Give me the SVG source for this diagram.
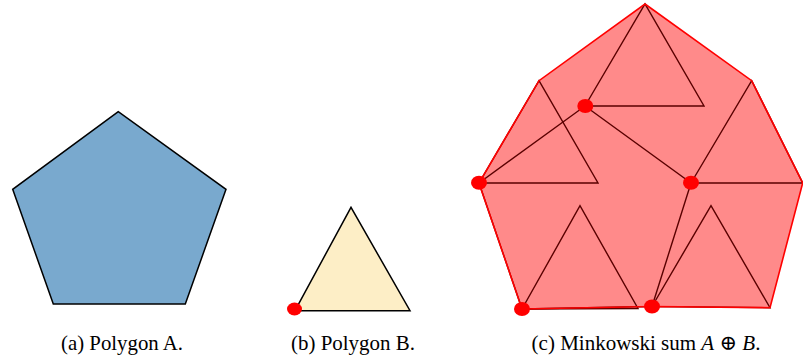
<svg xmlns="http://www.w3.org/2000/svg" width="803" height="360" viewBox="0 0 803 360">
<style>
.cap{font-family:'Liberation Serif','DejaVu Serif','Times New Roman',serif;font-size:22px;fill:#000;text-anchor:middle}
.outline{stroke:#000;stroke-width:1.5;stroke-linejoin:miter}
.sumfill{fill:#FF8A8A;stroke:none}
.sumline{fill:none;stroke:#FF0000;stroke-width:1.6;stroke-linejoin:miter}
.inner{fill:none;stroke:#5A0000;stroke-width:1.4;stroke-linejoin:miter}
.dot{fill:#FF0000}
</style>
<rect width="803" height="360" fill="#FFFFFF"/>
<g id="polygonA">
<polygon class="outline" fill="#79A9CE" points="118.3,111.7 12.7,189.3 53.3,304 185.3,304 226,189.3"/>
<text class="cap" font-family="Liberation Serif, serif" x="122" y="350" textLength="122" lengthAdjust="spacingAndGlyphs">(a) Polygon A.</text>
</g>
<g id="polygonB">
<polygon class="outline" fill="#FDEEC6" points="295,310.7 351,207.3 410,310.7"/>
<ellipse class="dot" cx="294.5" cy="309" rx="7.5" ry="6.5"/>
<text class="cap" font-family="Liberation Serif, serif" x="353" y="350" textLength="124" lengthAdjust="spacingAndGlyphs">(b) Polygon B.</text>
</g>
<g id="minkowskiSum">
<polygon class="sumfill" points="645,4 751.7,80.7 802.7,183 770,307.7 652,306.5 522,309 479,183 539,80.7"/>
<g id="connectors">
<polygon class="inner" points="585,106 691,183 652,306.5 522,309 479,183"/>
<polygon class="inner" points="585,106 645,4 704,106"/>
<polygon class="inner" points="479,183 539,80.7 598,183"/>
<polygon class="inner" points="691,183 751.7,80.7 802.7,183"/>
<polygon class="inner" points="522,309 580,205.7 638,308.5"/>
<polygon class="inner" points="652,306.5 711,205.7 770,307.7"/>
</g>
<polygon class="sumline" points="645,4 751.7,80.7 802.7,183 770,307.7 652,306.5 522,309 479,183 539,80.7"/>
<ellipse class="dot" cx="585.3" cy="106" rx="8" ry="7"/>
<ellipse class="dot" cx="479" cy="182.7" rx="8" ry="7"/>
<ellipse class="dot" cx="691" cy="182.7" rx="8" ry="7"/>
<ellipse class="dot" cx="522" cy="309" rx="8" ry="7"/>
<ellipse class="dot" cx="652" cy="306.5" rx="8" ry="7"/>
<text class="cap" font-family="Liberation Serif, serif" style="font-size:21px" x="646" y="350">(c) Minkowski sum <tspan font-style="italic">A</tspan> ⊕ <tspan font-style="italic">B</tspan>.</text>
</g>
</svg>
